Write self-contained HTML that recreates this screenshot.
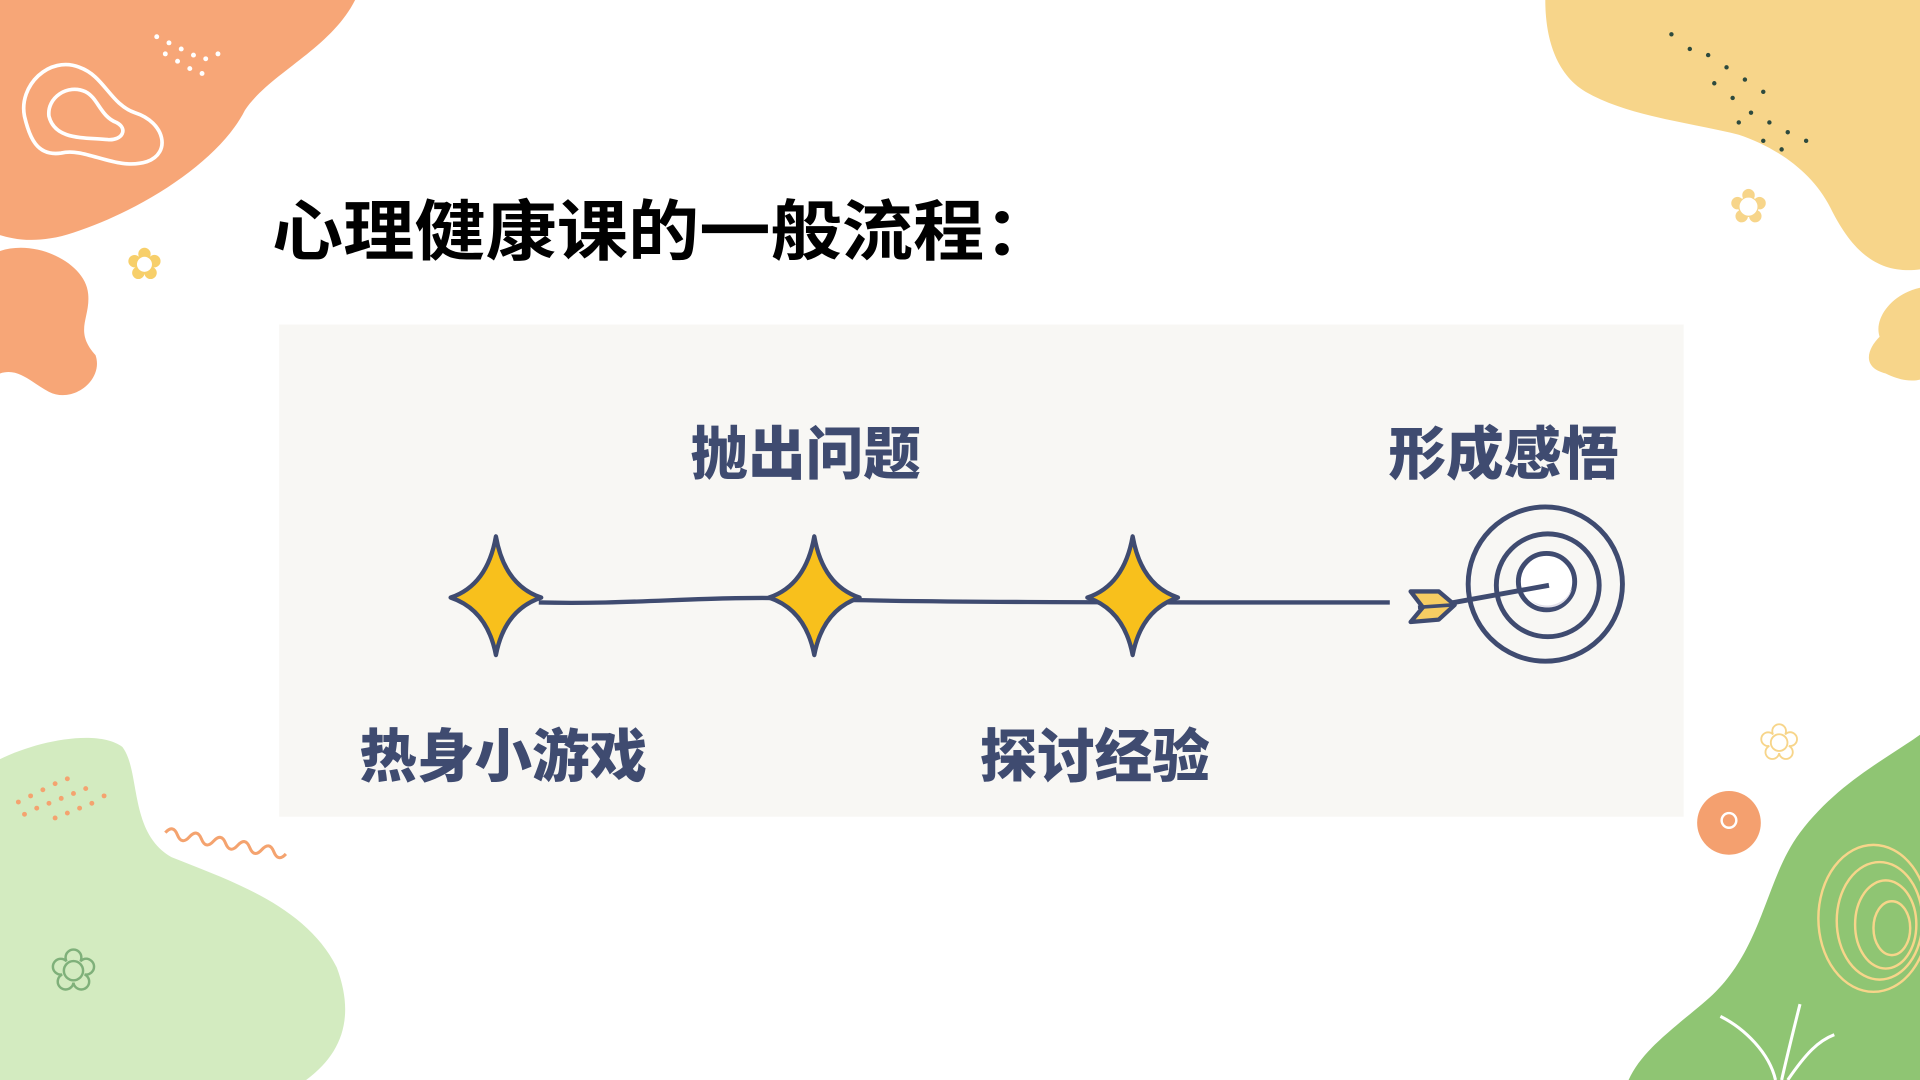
<!DOCTYPE html>
<html><head><meta charset="utf-8"><style>
html,body{margin:0;padding:0;background:#fff;overflow:hidden}
svg{display:block}
</style></head><body>
<svg width="1920" height="1080" viewBox="0 0 1568 882" xmlns="http://www.w3.org/2000/svg">
<rect width="1568" height="882" fill="#fff"/>
<path d="M0 0 H290 C270 40 220 60 200 90 C180 130 120 170 60 190 C30 200 10 195 0 192 Z" fill="#f7a677"/>
<path d="M0 205 C30 195 70 215 72 240 C74 260 60 270 78 290 C85 310 60 330 40 320 C25 312 15 300 0 305 Z" fill="#f7a677"/>
<path d="M20 95 C15 70 40 45 65 55 C85 62 90 85 110 92 C135 100 140 125 120 132 C95 140 70 120 50 125 C30 128 24 112 20 95 Z" fill="none" stroke="#fff" stroke-width="3"/>
<path d="M40 95 C38 80 55 68 70 75 C80 80 82 95 95 100 C105 105 100 115 88 114 C70 112 45 115 40 95 Z" fill="none" stroke="#fff" stroke-width="3"/>
<g fill="#fff"><circle cx="128" cy="30" r="2"/><circle cx="138" cy="35" r="2"/><circle cx="148" cy="40" r="2"/><circle cx="158" cy="45" r="2"/><circle cx="168" cy="48" r="2"/><circle cx="135" cy="44" r="2"/><circle cx="145" cy="50" r="2"/><circle cx="155" cy="56" r="2"/><circle cx="165" cy="60" r="2"/><circle cx="178" cy="44" r="2"/></g>
<text x="118" y="228" font-size="36" fill="#f7cf6a" text-anchor="middle" font-family="DejaVu Sans">✿</text>
<path d="M1262 0 H1568 V220 C1530 225 1510 200 1495 170 C1480 140 1450 120 1420 110 C1380 100 1330 95 1295 75 C1270 60 1262 30 1262 0 Z" fill="#f7d58a"/>
<path d="M1568 235 C1545 240 1530 260 1535 275 C1525 285 1520 300 1540 305 C1550 310 1560 312 1568 310 Z" fill="#f7d58a"/>
<g fill="#2d4a3e"><circle cx="1365" cy="28" r="1.8"/><circle cx="1380" cy="40" r="1.8"/><circle cx="1395" cy="45" r="1.8"/><circle cx="1410" cy="55" r="1.8"/><circle cx="1425" cy="65" r="1.8"/><circle cx="1440" cy="75" r="1.8"/><circle cx="1400" cy="68" r="1.8"/><circle cx="1415" cy="80" r="1.8"/><circle cx="1430" cy="92" r="1.8"/><circle cx="1445" cy="100" r="1.8"/><circle cx="1460" cy="108" r="1.8"/><circle cx="1475" cy="115" r="1.8"/><circle cx="1420" cy="100" r="1.8"/><circle cx="1440" cy="115" r="1.8"/><circle cx="1455" cy="122" r="1.8"/></g>
<text x="1428" y="182" font-size="40" fill="#f7d58a" stroke="#fff" stroke-width="1" text-anchor="middle" font-family="DejaVu Sans">✿</text>
<path d="M0 620 C30 605 80 595 100 610 C115 630 105 680 140 700 C190 720 250 740 275 790 C290 830 280 860 250 882 H0 Z" fill="#d3ebc0"/>
<g fill="#f4a36f"><circle cx="15" cy="655" r="2"/><circle cx="25" cy="650" r="2"/><circle cx="35" cy="645" r="2"/><circle cx="45" cy="640" r="2"/><circle cx="55" cy="636" r="2"/><circle cx="20" cy="665" r="2"/><circle cx="30" cy="660" r="2"/><circle cx="40" cy="656" r="2"/><circle cx="50" cy="652" r="2"/><circle cx="60" cy="648" r="2"/><circle cx="70" cy="644" r="2"/><circle cx="45" cy="668" r="2"/><circle cx="55" cy="664" r="2"/><circle cx="65" cy="660" r="2"/><circle cx="75" cy="656" r="2"/><circle cx="85" cy="650" r="2"/></g>
<path d="M135 680 q5 -8 10 0 q5 8 10 0 q5 -8 10 0 q5 8 10 0 q5 -8 10 0 q5 8 10 0 q5 -8 10 0 q5 8 10 0 q5 -8 10 0 q5 8 10 0" transform="rotate(10 135 680)" fill="none" stroke="#f4a36f" stroke-width="2.5"/>
<text x="60" y="808" font-size="46" fill="none" stroke="#7fb07a" stroke-width="2" text-anchor="middle" font-family="DejaVu Sans">✿</text>
<path d="M1568 600 C1540 620 1500 640 1470 680 C1440 720 1440 780 1390 820 C1360 845 1340 860 1330 882 H1568 Z" fill="#8fc573"/>
<g fill="none" stroke="#f7d58a" stroke-width="2"><ellipse cx="1530" cy="750" rx="45" ry="60"/><ellipse cx="1535" cy="752" rx="35" ry="48"/><ellipse cx="1540" cy="755" rx="25" ry="36"/><ellipse cx="1545" cy="758" rx="15" ry="22"/></g>
<g stroke="#fff" stroke-width="2.5" fill="none"><path d="M1450 882 C1445 860 1425 840 1405 830"/><path d="M1455 882 C1460 860 1465 840 1470 820"/><path d="M1460 882 C1475 860 1485 850 1498 845"/></g>
<circle cx="1412" cy="672" r="26" fill="#f4a06f"/><circle cx="1412" cy="670" r="6" fill="none" stroke="#fff" stroke-width="2"/>
<text x="1453" y="620" font-size="40" fill="#fff" stroke="#f7d58a" stroke-width="1.5" text-anchor="middle" font-family="DejaVu Sans">✿</text>
<text x="222" y="208" font-size="54" font-weight="bold" fill="#000" textLength="640" lengthAdjust="spacingAndGlyphs" font-family="'Liberation Sans','Noto Sans CJK SC',sans-serif">心理健康课的一般流程：</text>
<rect x="228" y="265" width="1147" height="402" fill="#f8f7f4"/>
<g font-family="'Liberation Sans','Noto Sans CJK SC',sans-serif" font-weight="900" font-size="47" fill="#3f4b70" text-anchor="middle">
<text x="658" y="387">抛出问题</text>
<text x="1228" y="387">形成感悟</text>
<text x="411" y="634">热身小游戏</text>
<text x="894" y="634">探讨经验</text>
</g>
<path d="M440 492 C520 494 580 486 660 489 S 900 492 1135 492" fill="none" stroke="#3f4b70" stroke-width="3.5"/>
<g fill="#f8c01c" stroke="#3f4b70" stroke-width="3.5" stroke-linejoin="round">
<path d="M405 438 Q412 478 442 488 Q412 498 405 535 Q398 498 368 488 Q398 478 405 438 Z"/>
<path d="M665 438 Q672 478 702 488 Q672 498 665 535 Q658 498 628 488 Q658 478 665 438 Z"/>
<path d="M925 438 Q932 478 962 488 Q932 498 925 535 Q918 498 888 488 Q918 478 925 438 Z"/>
</g>
<g fill="none" stroke="#3f4b70" stroke-width="4">
<circle cx="1262" cy="477" r="63"/><circle cx="1264" cy="478" r="42"/>
<circle cx="1263" cy="475" r="23" fill="#fff"/>
</g>
<path d="M1250 490 A22 22 0 0 0 1284 480 A20 20 0 0 1 1250 490 Z" fill="#e2e0ea"/>
<line x1="1182" y1="493" x2="1265" y2="478" stroke="#3f4b70" stroke-width="4"/>
<path d="M1152 483 L1175 483 L1188 494 L1175 506 L1152 508 L1162 496 Z" fill="#f7cd63" stroke="#3f4b70" stroke-width="3.5" stroke-linejoin="round"/>
<line x1="1158" y1="496" x2="1186" y2="494" stroke="#3f4b70" stroke-width="3"/>
</svg>
</body></html>
